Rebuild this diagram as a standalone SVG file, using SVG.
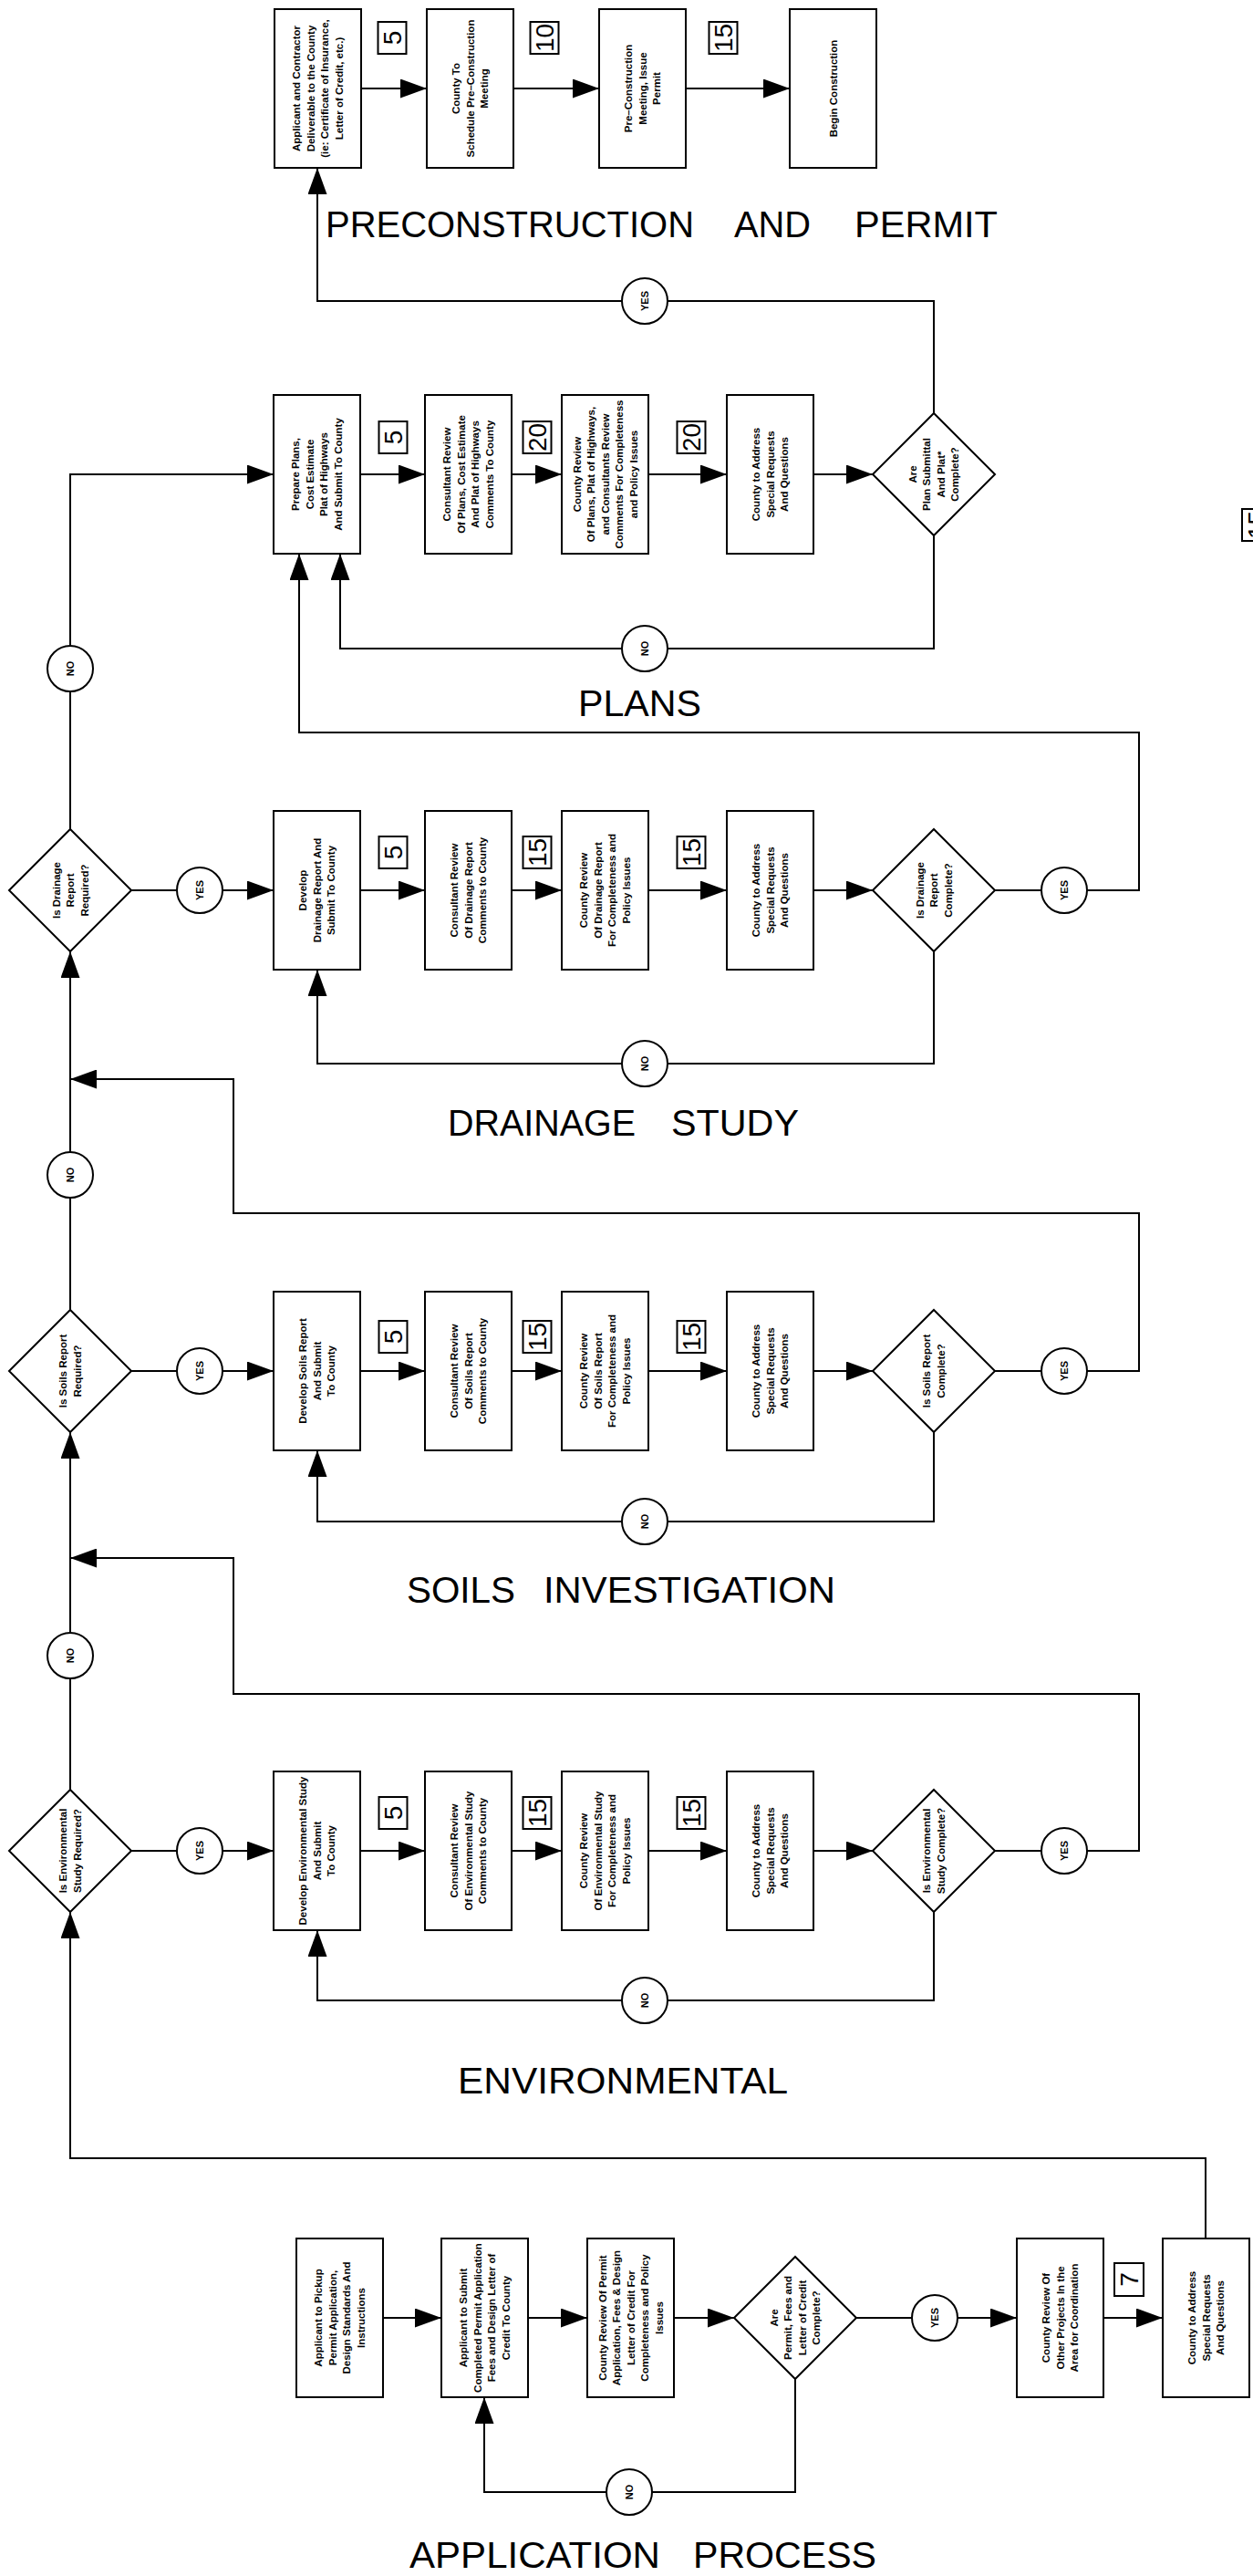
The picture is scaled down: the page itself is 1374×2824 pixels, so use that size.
<svg xmlns="http://www.w3.org/2000/svg" width="1374" height="2824" viewBox="0 0 1374 2824">
<defs>
<style>
.b{fill:#fff;stroke:#000;stroke-width:2}
.l{fill:none;stroke:#000;stroke-width:2}
.a{fill:none;stroke:#000;stroke-width:2;marker-end:url(#arr)}
.t{font-family:"Liberation Sans",Arial,sans-serif;font-size:11.5px;font-weight:bold;text-anchor:middle;fill:#000}
.c{font-family:"Liberation Sans",Arial,sans-serif;font-size:11px;font-weight:bold;text-anchor:middle;fill:#000}
.n{font-family:"Liberation Sans",Arial,sans-serif;font-size:28px;text-anchor:middle;fill:#000}
.h{font-family:"Liberation Sans",Arial,sans-serif;font-size:41px;fill:#000}
</style>
<marker id="arr" viewBox="0 0 29 21" refX="29" refY="10.5" markerWidth="29" markerHeight="21" markerUnits="userSpaceOnUse" orient="auto">
<path d="M0,0 L29,10.5 L0,21 Z" fill="#000"/>
</marker>
</defs>
<rect width="1374" height="2824" fill="#fff"/>

<g id="connectors">
<path class="a" d="M396,97 H468"/>
<path class="a" d="M563,97 H657"/>
<path class="a" d="M752,97 H866"/>
<path class="a" d="M77,909 V520 H300"/>
<path class="a" d="M395,520 H466"/>
<path class="a" d="M561,520 H616"/>
<path class="a" d="M711,520 H797"/>
<path class="a" d="M892,520 H957"/>
<path class="a" d="M1024,453 V330 H348 V184"/>
<path class="a" d="M1024,587 V711 H373 V607"/>
<path class="a" d="M144,976 H300"/>
<path class="a" d="M395,976 H466"/>
<path class="a" d="M561,976 H616"/>
<path class="a" d="M711,976 H797"/>
<path class="a" d="M892,976 H957"/>
<path class="a" d="M1091,976 H1249 V803 H328 V607"/>
<path class="a" d="M1024,1043 V1166 H348 V1063"/>
<path class="a" d="M77,1436 V1043"/>
<path class="a" d="M144,1503 H300"/>
<path class="a" d="M395,1503 H466"/>
<path class="a" d="M561,1503 H616"/>
<path class="a" d="M711,1503 H797"/>
<path class="a" d="M892,1503 H957"/>
<path class="a" d="M1091,1503 H1249 V1330 H256 V1183 H77"/>
<path class="a" d="M1024,1570 V1668 H348 V1590"/>
<path class="a" d="M77,1962 V1570"/>
<path class="a" d="M144,2029 H300"/>
<path class="a" d="M395,2029 H466"/>
<path class="a" d="M561,2029 H616"/>
<path class="a" d="M711,2029 H797"/>
<path class="a" d="M892,2029 H957"/>
<path class="a" d="M1091,2029 H1249 V1857 H256 V1708 H77"/>
<path class="a" d="M1024,2096 V2193 H348 V2116"/>
<path class="a" d="M1322,2454 V2366 H77 V2096"/>
<path class="a" d="M420,2541 H484"/>
<path class="a" d="M579,2541 H644"/>
<path class="a" d="M739,2541 H805"/>
<path class="a" d="M939,2541 H1115"/>
<path class="a" d="M1210,2541 H1275"/>
<path class="a" d="M872,2608 V2732 H531 V2628"/>
</g>

<g id="labels">
<g id="lbl-yes-plans"><circle class="b" cx="707" cy="330" r="25"/><text class="c" transform="translate(707 330) rotate(-90)" y="4">YES</text></g>
<g id="lbl-no-plans"><circle class="b" cx="707" cy="711" r="25"/><text class="c" transform="translate(707 711) rotate(-90)" y="4">NO</text></g>
<g id="lbl-no-drainreq"><circle class="b" cx="77" cy="733" r="25"/><text class="c" transform="translate(77 733) rotate(-90)" y="4">NO</text></g>
<g id="lbl-yes-drainreq"><circle class="b" cx="219" cy="976" r="25"/><text class="c" transform="translate(219 976) rotate(-90)" y="4">YES</text></g>
<g id="lbl-yes-drain"><circle class="b" cx="1167" cy="976" r="25"/><text class="c" transform="translate(1167 976) rotate(-90)" y="4">YES</text></g>
<g id="lbl-no-drain"><circle class="b" cx="707" cy="1166" r="25"/><text class="c" transform="translate(707 1166) rotate(-90)" y="4">NO</text></g>
<g id="lbl-no-soilsreq"><circle class="b" cx="77" cy="1288" r="25"/><text class="c" transform="translate(77 1288) rotate(-90)" y="4">NO</text></g>
<g id="lbl-yes-soilsreq"><circle class="b" cx="219" cy="1503" r="25"/><text class="c" transform="translate(219 1503) rotate(-90)" y="4">YES</text></g>
<g id="lbl-yes-soils"><circle class="b" cx="1167" cy="1503" r="25"/><text class="c" transform="translate(1167 1503) rotate(-90)" y="4">YES</text></g>
<g id="lbl-no-soils"><circle class="b" cx="707" cy="1668" r="25"/><text class="c" transform="translate(707 1668) rotate(-90)" y="4">NO</text></g>
<g id="lbl-no-envreq"><circle class="b" cx="77" cy="1815" r="25"/><text class="c" transform="translate(77 1815) rotate(-90)" y="4">NO</text></g>
<g id="lbl-yes-envreq"><circle class="b" cx="219" cy="2029" r="25"/><text class="c" transform="translate(219 2029) rotate(-90)" y="4">YES</text></g>
<g id="lbl-yes-env"><circle class="b" cx="1167" cy="2029" r="25"/><text class="c" transform="translate(1167 2029) rotate(-90)" y="4">YES</text></g>
<g id="lbl-no-env"><circle class="b" cx="707" cy="2193" r="25"/><text class="c" transform="translate(707 2193) rotate(-90)" y="4">NO</text></g>
<g id="lbl-yes-app"><circle class="b" cx="1025" cy="2541" r="25"/><text class="c" transform="translate(1025 2541) rotate(-90)" y="4">YES</text></g>
<g id="lbl-no-app"><circle class="b" cx="690" cy="2732" r="25"/><text class="c" transform="translate(690 2732) rotate(-90)" y="4">NO</text></g>
</g>

<g id="durations">
<g><rect class="b" x="414.5" y="24" width="31" height="35"/><text class="n" transform="translate(430 41.5) rotate(-90)" y="10">5</text></g>
<g><rect class="b" x="581.5" y="24" width="31" height="35"/><text class="n" transform="translate(597 41.5) rotate(-90)" y="10">10</text></g>
<g><rect class="b" x="777.5" y="24" width="31" height="35"/><text class="n" transform="translate(793 41.5) rotate(-90)" y="10">15</text></g>
<g><rect class="b" x="415.5" y="462" width="31" height="35"/><text class="n" transform="translate(431 479.5) rotate(-90)" y="10">5</text></g>
<g><rect class="b" x="573.5" y="462" width="31" height="35"/><text class="n" transform="translate(589 479.5) rotate(-90)" y="10">20</text></g>
<g><rect class="b" x="742.5" y="462" width="31" height="35"/><text class="n" transform="translate(758 479.5) rotate(-90)" y="10">20</text></g>
<g><rect class="b" x="1362" y="558" width="31" height="35"/><text class="n" transform="translate(1377.5 575.5) rotate(-90)" y="10">15</text></g>
<g><rect class="b" x="415.5" y="917" width="31" height="35"/><text class="n" transform="translate(431 934.5) rotate(-90)" y="10">5</text></g>
<g><rect class="b" x="573.5" y="917" width="31" height="35"/><text class="n" transform="translate(589 934.5) rotate(-90)" y="10">15</text></g>
<g><rect class="b" x="742.5" y="917" width="31" height="35"/><text class="n" transform="translate(758 934.5) rotate(-90)" y="10">15</text></g>
<g><rect class="b" x="415.5" y="1448" width="31" height="35"/><text class="n" transform="translate(431 1465.5) rotate(-90)" y="10">5</text></g>
<g><rect class="b" x="573.5" y="1448" width="31" height="35"/><text class="n" transform="translate(589 1465.5) rotate(-90)" y="10">15</text></g>
<g><rect class="b" x="742.5" y="1448" width="31" height="35"/><text class="n" transform="translate(758 1465.5) rotate(-90)" y="10">15</text></g>
<g><rect class="b" x="415.5" y="1970" width="31" height="35"/><text class="n" transform="translate(431 1987.5) rotate(-90)" y="10">5</text></g>
<g><rect class="b" x="573.5" y="1970" width="31" height="35"/><text class="n" transform="translate(589 1987.5) rotate(-90)" y="10">15</text></g>
<g><rect class="b" x="742.5" y="1970" width="31" height="35"/><text class="n" transform="translate(758 1987.5) rotate(-90)" y="10">15</text></g>
<g><rect class="b" x="1222" y="2481" width="32" height="36"/><text class="n" transform="translate(1238 2499) rotate(-90)" y="10">7</text></g>
</g>

<g id="pre-deliverable"><rect class="b" x="301" y="10" width="95" height="174"/><text class="t" transform="translate(348.5 97) rotate(-90)"><tspan x="0" y="-19.25">Applicant and Contractor</tspan><tspan x="0" y="-3.75">Deliverable to the County</tspan><tspan x="0" y="11.75">(ie: Certificate of Insurance,</tspan><tspan x="0" y="27.25">Letter of Credit, etc.)</tspan></text></g>
<g id="pre-schedule"><rect class="b" x="468" y="10" width="95" height="174"/><text class="t" transform="translate(515.5 97) rotate(-90)"><tspan x="0" y="-11.5">County To</tspan><tspan x="0" y="4">Schedule Pre–Construction</tspan><tspan x="0" y="19.5">Meeting</tspan></text></g>
<g id="pre-meeting"><rect class="b" x="657" y="10" width="95" height="174"/><text class="t" transform="translate(704.5 97) rotate(-90)"><tspan x="0" y="-11.5">Pre–Construction</tspan><tspan x="0" y="4">Meeting, Issue</tspan><tspan x="0" y="19.5">Permit</tspan></text></g>
<g id="pre-begin"><rect class="b" x="866" y="10" width="95" height="174"/><text class="t" transform="translate(913.5 97) rotate(-90)"><tspan x="0" y="4">Begin Construction</tspan></text></g>

<g id="plans-prepare"><rect class="b" x="300" y="433" width="95" height="174"/><text class="t" transform="translate(347.5 520) rotate(-90)"><tspan x="0" y="-19.25">Prepare Plans,</tspan><tspan x="0" y="-3.75">Cost Estimate</tspan><tspan x="0" y="11.75">Plat of Highways</tspan><tspan x="0" y="27.25">And Submit To County</tspan></text></g>
<g id="plans-consultant"><rect class="b" x="466" y="433" width="95" height="174"/><text class="t" transform="translate(513.5 520) rotate(-90)"><tspan x="0" y="-19.25">Consultant Review</tspan><tspan x="0" y="-3.75">Of Plans, Cost Estimate</tspan><tspan x="0" y="11.75">And Plat of Highways</tspan><tspan x="0" y="27.25">Comments To County</tspan></text></g>
<g id="plans-county"><rect class="b" x="616" y="433" width="95" height="174"/><text class="t" transform="translate(663.5 520) rotate(-90)"><tspan x="0" y="-27">County Review</tspan><tspan x="0" y="-11.5">Of Plans, Plat of Highways,</tspan><tspan x="0" y="4">and Consultants Review</tspan><tspan x="0" y="19.5">Comments For Completeness</tspan><tspan x="0" y="35">and Policy Issues</tspan></text></g>
<g id="plans-address"><rect class="b" x="797" y="433" width="95" height="174"/><text class="t" transform="translate(844.5 520) rotate(-90)"><tspan x="0" y="-11.5">County to Address</tspan><tspan x="0" y="4">Special Requests</tspan><tspan x="0" y="19.5">And Questions</tspan></text></g>
<g id="plans-complete"><path class="b" d="M957,520 L1024,453 L1091,520 L1024,587 Z"/><text class="t" transform="translate(1024 520) rotate(-90)"><tspan x="0" y="-19.25">Are</tspan><tspan x="0" y="-3.75">Plan Submittal</tspan><tspan x="0" y="11.75">And Plat*</tspan><tspan x="0" y="27.25">Complete?</tspan></text></g>

<g id="drain-required"><path class="b" d="M10,976 L77,909 L144,976 L77,1043 Z"/><text class="t" transform="translate(77 976) rotate(-90)"><tspan x="0" y="-11.5">Is Drainage</tspan><tspan x="0" y="4">Report</tspan><tspan x="0" y="19.5">Required?</tspan></text></g>
<g id="drain-develop"><rect class="b" x="300" y="889" width="95" height="174"/><text class="t" transform="translate(347.5 976) rotate(-90)"><tspan x="0" y="-11.5">Develop</tspan><tspan x="0" y="4">Drainage Report And</tspan><tspan x="0" y="19.5">Submit To County</tspan></text></g>
<g id="drain-consultant"><rect class="b" x="466" y="889" width="95" height="174"/><text class="t" transform="translate(513.5 976) rotate(-90)"><tspan x="0" y="-11.5">Consultant Review</tspan><tspan x="0" y="4">Of Drainage Report</tspan><tspan x="0" y="19.5">Comments to County</tspan></text></g>
<g id="drain-county"><rect class="b" x="616" y="889" width="95" height="174"/><text class="t" transform="translate(663.5 976) rotate(-90)"><tspan x="0" y="-19.25">County Review</tspan><tspan x="0" y="-3.75">Of Drainage Report</tspan><tspan x="0" y="11.75">For Completeness and</tspan><tspan x="0" y="27.25">Policy Issues</tspan></text></g>
<g id="drain-address"><rect class="b" x="797" y="889" width="95" height="174"/><text class="t" transform="translate(844.5 976) rotate(-90)"><tspan x="0" y="-11.5">County to Address</tspan><tspan x="0" y="4">Special Requests</tspan><tspan x="0" y="19.5">And Questions</tspan></text></g>
<g id="drain-complete"><path class="b" d="M957,976 L1024,909 L1091,976 L1024,1043 Z"/><text class="t" transform="translate(1024 976) rotate(-90)"><tspan x="0" y="-11.5">Is Drainage</tspan><tspan x="0" y="4">Report</tspan><tspan x="0" y="19.5">Complete?</tspan></text></g>

<g id="soils-required"><path class="b" d="M10,1503 L77,1436 L144,1503 L77,1570 Z"/><text class="t" transform="translate(77 1503) rotate(-90)"><tspan x="0" y="-3.75">Is Soils Report</tspan><tspan x="0" y="11.75">Required?</tspan></text></g>
<g id="soils-develop"><rect class="b" x="300" y="1416" width="95" height="174"/><text class="t" transform="translate(347.5 1503) rotate(-90)"><tspan x="0" y="-11.5">Develop Soils Report</tspan><tspan x="0" y="4">And Submit</tspan><tspan x="0" y="19.5">To County</tspan></text></g>
<g id="soils-consultant"><rect class="b" x="466" y="1416" width="95" height="174"/><text class="t" transform="translate(513.5 1503) rotate(-90)"><tspan x="0" y="-11.5">Consultant Review</tspan><tspan x="0" y="4">Of Soils Report</tspan><tspan x="0" y="19.5">Comments to County</tspan></text></g>
<g id="soils-county"><rect class="b" x="616" y="1416" width="95" height="174"/><text class="t" transform="translate(663.5 1503) rotate(-90)"><tspan x="0" y="-19.25">County Review</tspan><tspan x="0" y="-3.75">Of Soils Report</tspan><tspan x="0" y="11.75">For Completeness and</tspan><tspan x="0" y="27.25">Policy Issues</tspan></text></g>
<g id="soils-address"><rect class="b" x="797" y="1416" width="95" height="174"/><text class="t" transform="translate(844.5 1503) rotate(-90)"><tspan x="0" y="-11.5">County to Address</tspan><tspan x="0" y="4">Special Requests</tspan><tspan x="0" y="19.5">And Questions</tspan></text></g>
<g id="soils-complete"><path class="b" d="M957,1503 L1024,1436 L1091,1503 L1024,1570 Z"/><text class="t" transform="translate(1024 1503) rotate(-90)"><tspan x="0" y="-3.75">Is Soils Report</tspan><tspan x="0" y="11.75">Complete?</tspan></text></g>

<g id="env-required"><path class="b" d="M10,2029 L77,1962 L144,2029 L77,2096 Z"/><text class="t" transform="translate(77 2029) rotate(-90)"><tspan x="0" y="-3.75">Is Environmental</tspan><tspan x="0" y="11.75">Study Required?</tspan></text></g>
<g id="env-develop"><rect class="b" x="300" y="1942" width="95" height="174"/><text class="t" transform="translate(347.5 2029) rotate(-90)"><tspan x="0" y="-11.5">Develop Environmental Study</tspan><tspan x="0" y="4">And Submit</tspan><tspan x="0" y="19.5">To County</tspan></text></g>
<g id="env-consultant"><rect class="b" x="466" y="1942" width="95" height="174"/><text class="t" transform="translate(513.5 2029) rotate(-90)"><tspan x="0" y="-11.5">Consultant Review</tspan><tspan x="0" y="4">Of Environmental Study</tspan><tspan x="0" y="19.5">Comments to County</tspan></text></g>
<g id="env-county"><rect class="b" x="616" y="1942" width="95" height="174"/><text class="t" transform="translate(663.5 2029) rotate(-90)"><tspan x="0" y="-19.25">County Review</tspan><tspan x="0" y="-3.75">Of Environmental Study</tspan><tspan x="0" y="11.75">For Completeness and</tspan><tspan x="0" y="27.25">Policy Issues</tspan></text></g>
<g id="env-address"><rect class="b" x="797" y="1942" width="95" height="174"/><text class="t" transform="translate(844.5 2029) rotate(-90)"><tspan x="0" y="-11.5">County to Address</tspan><tspan x="0" y="4">Special Requests</tspan><tspan x="0" y="19.5">And Questions</tspan></text></g>
<g id="env-complete"><path class="b" d="M957,2029 L1024,1962 L1091,2029 L1024,2096 Z"/><text class="t" transform="translate(1024 2029) rotate(-90)"><tspan x="0" y="-3.75">Is Environmental</tspan><tspan x="0" y="11.75">Study Complete?</tspan></text></g>

<g id="app-pickup"><rect class="b" x="325" y="2454" width="95" height="174"/><text class="t" transform="translate(372.5 2541) rotate(-90)"><tspan x="0" y="-19.25">Applicant to Pickup</tspan><tspan x="0" y="-3.75">Permit Application,</tspan><tspan x="0" y="11.75">Design Standards And</tspan><tspan x="0" y="27.25">Instructions</tspan></text></g>
<g id="app-submit"><rect class="b" x="484" y="2454" width="95" height="174"/><text class="t" transform="translate(531.5 2541) rotate(-90)"><tspan x="0" y="-19.25">Applicant to Submit</tspan><tspan x="0" y="-3.75">Completed Permit Application</tspan><tspan x="0" y="11.75">Fees and Design Letter of</tspan><tspan x="0" y="27.25">Credit To County</tspan></text></g>
<g id="app-review"><rect class="b" x="644" y="2454" width="95" height="174"/><text class="t" transform="translate(691.5 2541) rotate(-90)"><tspan x="0" y="-27">County Review Of Permit</tspan><tspan x="0" y="-11.5">Application, Fees &amp; Design</tspan><tspan x="0" y="4">Letter of Credit For</tspan><tspan x="0" y="19.5">Completeness and Policy</tspan><tspan x="0" y="35">Issues</tspan></text></g>
<g id="app-complete"><path class="b" d="M805,2541 L872,2474 L939,2541 L872,2608 Z"/><text class="t" transform="translate(872 2541) rotate(-90)"><tspan x="0" y="-19.25">Are</tspan><tspan x="0" y="-3.75">Permit, Fees and</tspan><tspan x="0" y="11.75">Letter of Credit</tspan><tspan x="0" y="27.25">Complete?</tspan></text></g>
<g id="app-coordination"><rect class="b" x="1115" y="2454" width="95" height="174"/><text class="t" transform="translate(1162.5 2541) rotate(-90)"><tspan x="0" y="-11.5">County Review Of</tspan><tspan x="0" y="4">Other Projects In the</tspan><tspan x="0" y="19.5">Area for Coordination</tspan></text></g>
<g id="app-address"><rect class="b" x="1275" y="2454" width="95" height="174"/><text class="t" transform="translate(1322.5 2541) rotate(-90)"><tspan x="0" y="-11.5">County to Address</tspan><tspan x="0" y="4">Special Requests</tspan><tspan x="0" y="19.5">And Questions</tspan></text></g>

<g id="titles">
<text class="h" y="260"><tspan x="357" textLength="404" lengthAdjust="spacingAndGlyphs">PRECONSTRUCTION</tspan><tspan x="805" textLength="84" lengthAdjust="spacingAndGlyphs">AND</tspan><tspan x="937" textLength="157" lengthAdjust="spacingAndGlyphs">PERMIT</tspan></text>
<text class="h" x="634" y="785" textLength="135" lengthAdjust="spacingAndGlyphs">PLANS</text>
<text class="h" y="1245"><tspan x="491" textLength="206" lengthAdjust="spacingAndGlyphs">DRAINAGE</tspan><tspan x="736" textLength="140" lengthAdjust="spacingAndGlyphs">STUDY</tspan></text>
<text class="h" y="1757"><tspan x="446" textLength="119" lengthAdjust="spacingAndGlyphs">SOILS</tspan><tspan x="596" textLength="320" lengthAdjust="spacingAndGlyphs">INVESTIGATION</tspan></text>
<text class="h" x="502" y="2295" textLength="362" lengthAdjust="spacingAndGlyphs">ENVIRONMENTAL</text>
<text class="h" y="2815"><tspan x="449" textLength="275" lengthAdjust="spacingAndGlyphs">APPLICATION</tspan><tspan x="760" textLength="201" lengthAdjust="spacingAndGlyphs">PROCESS</tspan></text>
</g>
</svg>
